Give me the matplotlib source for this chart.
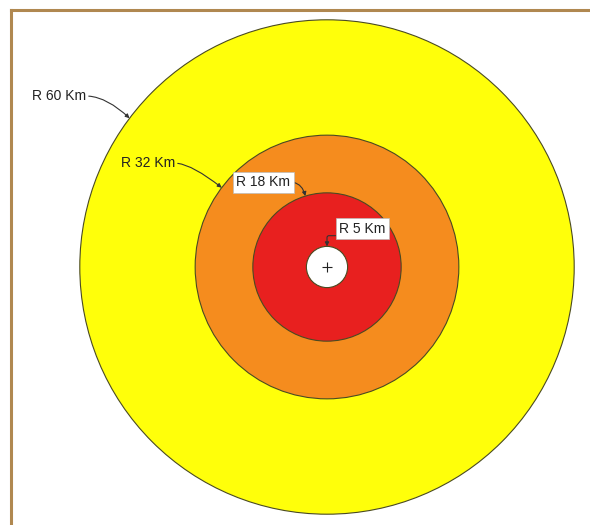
import numpy as np
import matplotlib
matplotlib.use("Agg")
import matplotlib.pyplot as plt
from matplotlib.patches import Circle
from matplotlib.lines import Line2D

# ---- data ----
radii_km = [60, 32, 18, 5]
zone_labels = ["R 60 Km", "R 32 Km", "R 18 Km", "R 5 Km"]
zone_colors = ["#FFFF0A", "#F58C1E", "#E8201F", "#FFFFFF"]
label_boxed = [False, False, True, True]
# angle (deg) on each circle where the leader arrow lands
arrow_angles = [143, 143, 107, 90]
# text anchor positions (km, relative to centre)
text_pos = [(-58.5, 41.5), (-36.9, 25.2), (-15.5, 20.6), (8.6, 9.3)]
text_ha = ["right", "right", "center", "center"]
relpos = [(1.0, 0.5), (1.0, 0.5), (1.0, 0.5), (0.0, 0.0)]
conn = ["angle3,angleA=0,angleB=137", "angle3,angleA=0,angleB=142",
        "angle3,angleA=0,angleB=104", "angle,angleA=180,angleB=90,rad=2"]

W, H, DPI = 590, 525, 100
scale = 4.12          # px per km
cx_px, cy_px = 327, 267

fig = plt.figure(figsize=(W / DPI, H / DPI), dpi=DPI)
ax = fig.add_axes([0, 0, 1, 1])
ax.set_xlim(-cx_px / scale, (W - cx_px) / scale)
ax.set_ylim(-(H - cy_px) / scale, cy_px / scale)
ax.set_aspect("equal")
ax.axis("off")

for r, c in zip(radii_km, zone_colors):
    ax.add_patch(Circle((0, 0), r, facecolor=c, edgecolor="#4a4a22",
                        linewidth=0.8, zorder=2))

ax.plot(0, 0, marker="+", ms=7, mew=0.8, color="#222222", zorder=5)

for r, lab, boxed, ang, tp, ha, rp, cs in zip(radii_km, zone_labels, label_boxed,
                                              arrow_angles, text_pos, text_ha,
                                              relpos, conn):
    a = np.deg2rad(ang)
    target = (r * np.cos(a), r * np.sin(a))
    bbox = dict(boxstyle="square,pad=0.25", fc="white", ec="#bbbbbb", lw=0.5) if boxed else None
    ax.annotate(lab, xy=target, xytext=tp, ha=ha, va="center",
                fontsize=10, family=["Liberation Sans", "DejaVu Sans"],
                color="#222222", bbox=bbox, zorder=6,
                arrowprops=dict(arrowstyle="-|>", color="#333333", lw=0.8,
                                mutation_scale=6, shrinkA=0, shrinkB=0,
                                relpos=rp, connectionstyle=cs))

# frame lines (top and left)
fig.add_artist(Line2D([11 / W, 1], [1 - 10 / H, 1 - 10 / H], color="#B08850",
                      lw=2.2, transform=fig.transFigure))
fig.add_artist(Line2D([11 / W, 11 / W], [0, 1 - 10 / H], color="#B08850",
                      lw=2.2, transform=fig.transFigure))

fig.savefig("out.png", dpi=DPI)
